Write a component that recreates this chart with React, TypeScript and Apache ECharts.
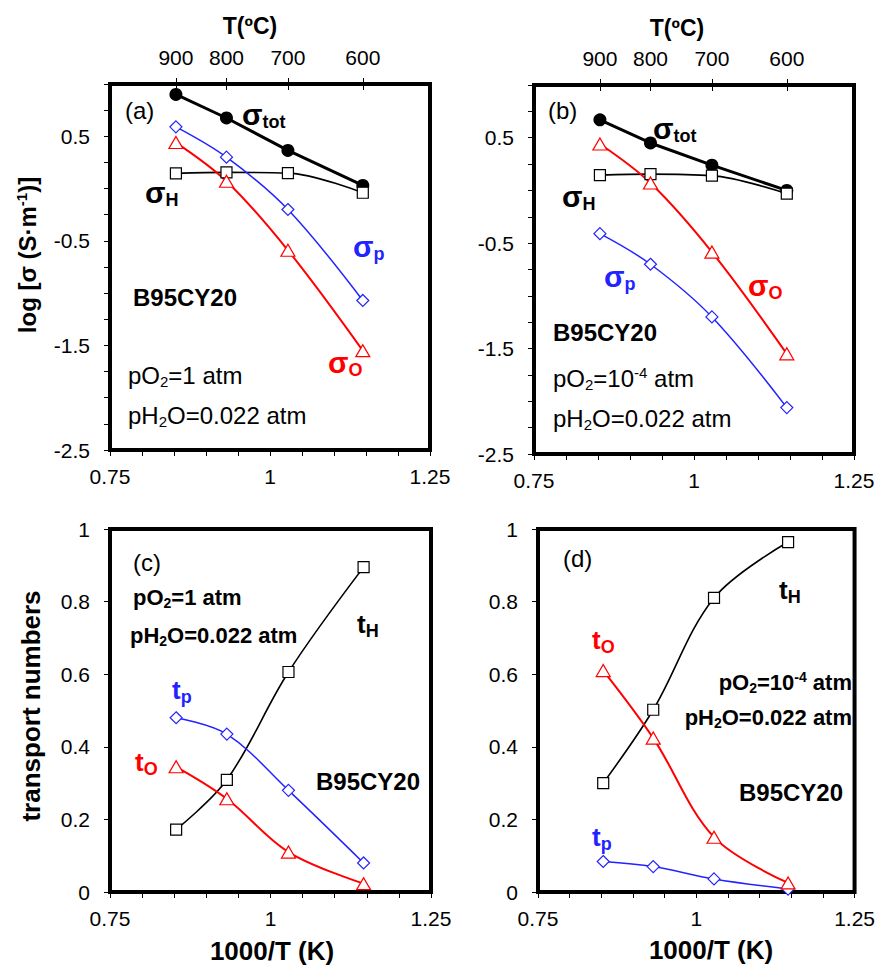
import React, { useEffect, useRef } from 'react';
import * as echarts from 'echarts';

// 1000/T (K) positions of the measurement temperatures
const invT = [0.853, 0.932, 1.028, 1.145];
const tempC = ['900', '800', '700', '600'];

// panel (a): pO2 = 1 atm, log sigma
const aTot = [0.9, 0.675, 0.365, 0.03];
const aH = [0.145, 0.155, 0.148, -0.04];
const aP = [0.59, 0.3, -0.2, -1.07];
const aO = [0.44, 0.07, -0.59, -1.55];

// panel (b): pO2 = 1e-4 atm, log sigma
const bTot = [0.67, 0.45, 0.24, 0.0];
const bH = [0.145, 0.155, 0.14, -0.03];
const bP = [-0.41, -0.7, -1.2, -2.06];
const bO = [0.44, 0.07, -0.585, -1.55];

// panel (c): transport numbers, pO2 = 1 atm
const cH = [0.172, 0.309, 0.606, 0.895];
const cP = [0.48, 0.435, 0.28, 0.08];
const cO = [0.345, 0.257, 0.11, 0.023];

// panel (d): transport numbers, pO2 = 1e-4 atm
const dH = [0.3, 0.502, 0.81, 0.964];
const dP = [0.084, 0.07, 0.036, 0.008];
const dO = [0.61, 0.424, 0.151, 0.025];

const xLabelValues = [0.75, 1, 1.25];
const logLabelValues = [-2.5, -1.5, -0.5, 0.5];

const FF = '"Liberation Sans", Arial, Helvetica, sans-serif';
const BLUE = '#2323ff';
const RED = '#ff0000';

type Kind = 'n' | 'sub' | 'sup';

function rt(
  x: number,
  y: number,
  parts: [string, Kind][],
  size: number,
  weight: string,
  color: string,
  align: string = 'left',
  rotation: number = 0,
  subSize?: number
) {
  const ss = subSize || Math.round(size * 0.68);
  const rich: any = {
    n: { fontSize: size, fontWeight: weight, fontFamily: FF, fill: color, color },
    sub: {
      fontSize: ss,
      fontWeight: weight,
      fontFamily: FF,
      fill: color,
      color,
      padding: [Math.round(size * 0.5), 0, 0, 0],
    },
    sup: {
      fontSize: ss,
      fontWeight: weight,
      fontFamily: FF,
      fill: color,
      color,
      padding: [0, 0, Math.round(size * 0.5), 0],
    },
  };
  return {
    type: 'text',
    x,
    y,
    rotation,
    silent: true,
    style: {
      text: parts.map(([t, k]) => `{${k}|${t}}`).join(''),
      rich,
      align,
      verticalAlign: 'middle',
      fontSize: size,
      fontWeight: weight,
      fontFamily: FF,
      fill: color,
    },
  };
}

const grids = [
  { left: 110, top: 84, width: 320, height: 366 },
  { left: 534, top: 85, width: 320, height: 369 },
  { left: 110, top: 529, width: 321, height: 363 },
  { left: 538, top: 529, width: 321, height: 363 },
];

const tickStyle = { color: '#000', width: 1 };

function bottomAxis(g: number) {
  return {
    type: 'value',
    gridIndex: g,
    position: 'bottom',
    min: 0.75,
    max: 1.25,
    interval: 0.05,
    axisLine: { show: false, onZero: false },
    axisTick: { show: true, length: 6, lineStyle: tickStyle },
    axisLabel: {
      customValues: xLabelValues,
      formatter: (v: number) => String(v),
      margin: 16,
      fontSize: 21,
      fontFamily: FF,
      color: '#000',
    },
    splitLine: { show: false },
  };
}

function topAxis(g: number) {
  return {
    type: 'value',
    gridIndex: g,
    position: 'top',
    min: 0.75,
    max: 1.25,
    offset: -6,
    axisLine: { show: false, onZero: false },
    axisTick: {
      show: true,
      customValues: invT,
      length: 12,
      lineStyle: tickStyle,
    },
    axisLabel: {
      customValues: invT,
      formatter: (v: number) => {
        const i = invT.findIndex((t) => Math.abs(t - v) < 1e-6);
        return i >= 0 ? tempC[i] : '';
      },
      margin: 22,
      fontSize: 21,
      fontFamily: FF,
      color: '#000',
    },
    splitLine: { show: false },
  };
}

function logAxis(g: number) {
  return {
    type: 'value',
    gridIndex: g,
    position: 'left',
    min: -2.5,
    max: 1,
    interval: 0.25,
    axisLine: { show: false, onZero: false },
    axisTick: { show: true, length: 6, lineStyle: tickStyle },
    axisLabel: {
      customValues: logLabelValues,
      formatter: (v: number) => String(v),
      margin: 20,
      fontSize: 21,
      fontFamily: FF,
      color: '#000',
    },
    splitLine: { show: false },
  };
}

function tAxis(g: number) {
  return {
    type: 'value',
    gridIndex: g,
    position: 'left',
    min: 0,
    max: 1,
    interval: 0.2,
    axisLine: { show: false, onZero: false },
    axisTick: { show: true, length: 6, lineStyle: tickStyle },
    axisLabel: {
      formatter: (v: number) => String(Math.round(v * 10) / 10),
      margin: 20,
      fontSize: 21,
      fontFamily: FF,
      color: '#000',
    },
    splitLine: { show: false },
  };
}

const styleTot = {
  symbol: 'circle',
  symbolSize: 13,
  smooth: false,
  lineStyle: { color: '#000', width: 3 },
  itemStyle: { color: '#000' },
};
const styleH = {
  symbol: 'rect',
  symbolSize: 11,
  smooth: 0.35,
  lineStyle: { color: '#000', width: 1.6 },
  itemStyle: { color: '#fff', borderColor: '#000', borderWidth: 1.2 },
};
const styleP = {
  symbol: 'diamond',
  symbolSize: 12,
  smooth: 0.35,
  lineStyle: { color: BLUE, width: 1.5 },
  itemStyle: { color: '#fff', borderColor: BLUE, borderWidth: 1.2 },
};
const styleO = {
  symbol: 'triangle',
  symbolSize: [14, 12],
  smooth: 0.35,
  lineStyle: { color: RED, width: 2 },
  itemStyle: { color: '#fff', borderColor: RED, borderWidth: 1.2 },
};

function series(name: string, ys: number[], idx: number, st: any) {
  return {
    type: 'line',
    name,
    xAxisIndex: idx,
    yAxisIndex: idx,
    data: invT.map((x, i) => [x, ys[i]]),
    showSymbol: true,
    silent: true,
    animation: false,
    emphasis: { disabled: true },
    z: 3,
    ...st,
  };
}

function buildOption() {
  const graphics: any[] = [];
  const sig = (x: number, y: number, sub: string, color: string) =>
    rt(x, y, [['σ', 'n'], [sub, 'sub']], 30, 'bold', color, 'left', 0, 18);
  const tt = (x: number, y: number, sub: string, color: string) =>
    rt(x, y, [['t', 'n'], [sub, 'sub']], 26, 'bold', color, 'left', 0, 18);

  // axis titles
  graphics.push(rt(250, 26, [['T(ºC)', 'n']], 23, 'bold', '#000', 'center'));
  graphics.push(rt(677, 28, [['T(ºC)', 'n']], 23, 'bold', '#000', 'center'));
  graphics.push(
    rt(27, 255, [['log [σ (S·m', 'n'], ['-1', 'sup'], [')]', 'n']], 24, 'bold', '#000', 'center', Math.PI / 2, 15)
  );
  graphics.push(rt(31, 706, [['transport numbers', 'n']], 26, 'bold', '#000', 'center', Math.PI / 2));
  graphics.push(rt(272, 951, [['1000/T (K)', 'n']], 26, 'bold', '#000', 'center'));
  graphics.push(rt(711, 950, [['1000/T (K)', 'n']], 26, 'bold', '#000', 'center'));

  // panel (a)
  graphics.push(rt(125, 110, [['(a)', 'n']], 24, 'normal', '#000'));
  graphics.push(sig(242, 114, 'tot', '#000'));
  graphics.push(sig(145, 192, 'H', '#000'));
  graphics.push(sig(353, 246, 'p', BLUE));
  graphics.push(sig(328, 362, 'O', RED));
  graphics.push(rt(133, 297, [['B95CY20', 'n']], 24, 'bold', '#000'));
  graphics.push(rt(128, 375, [['pO', 'n'], ['2', 'sub'], ['=1 atm', 'n']], 24, 'normal', '#000', 'left', 0, 15));
  graphics.push(rt(128, 415, [['pH', 'n'], ['2', 'sub'], ['O=0.022 atm', 'n']], 24, 'normal', '#000', 'left', 0, 15));

  // panel (b)
  graphics.push(rt(548, 110, [['(b)', 'n']], 24, 'normal', '#000'));
  graphics.push(sig(653, 128, 'tot', '#000'));
  graphics.push(sig(562, 196, 'H', '#000'));
  graphics.push(sig(604, 276, 'p', BLUE));
  graphics.push(sig(748, 285, 'O', RED));
  graphics.push(rt(553, 332, [['B95CY20', 'n']], 24, 'bold', '#000'));
  graphics.push(
    rt(553, 378, [['pO', 'n'], ['2', 'sub'], ['=10', 'n'], ['-4', 'sup'], [' atm', 'n']], 24, 'normal', '#000', 'left', 0, 15)
  );
  graphics.push(rt(553, 418, [['pH', 'n'], ['2', 'sub'], ['O=0.022 atm', 'n']], 24, 'normal', '#000', 'left', 0, 15));

  // panel (c)
  graphics.push(rt(133, 562, [['(c)', 'n']], 24, 'normal', '#000'));
  graphics.push(rt(133, 597, [['pO', 'n'], ['2', 'sub'], ['=1 atm', 'n']], 22, 'bold', '#000', 'left', 0, 14));
  graphics.push(rt(130, 635, [['pH', 'n'], ['2', 'sub'], ['O=0.022 atm', 'n']], 22, 'bold', '#000', 'left', 0, 14));
  graphics.push(tt(357, 624, 'H', '#000'));
  graphics.push(tt(172, 690, 'p', BLUE));
  graphics.push(tt(135, 762, 'O', RED));
  graphics.push(rt(316, 781, [['B95CY20', 'n']], 24, 'bold', '#000'));

  // panel (d)
  graphics.push(rt(563, 558, [['(d)', 'n']], 24, 'normal', '#000'));
  graphics.push(tt(779, 590, 'H', '#000'));
  graphics.push(tt(592, 640, 'O', RED));
  graphics.push(
    rt(852, 682, [['pO', 'n'], ['2', 'sub'], ['=10', 'n'], ['-4', 'sup'], [' atm', 'n']], 22, 'bold', '#000', 'right', 0, 14)
  );
  graphics.push(rt(852, 717, [['pH', 'n'], ['2', 'sub'], ['O=0.022 atm', 'n']], 22, 'bold', '#000', 'right', 0, 14));
  graphics.push(rt(739, 792, [['B95CY20', 'n']], 24, 'bold', '#000'));
  graphics.push(tt(592, 837, 'p', BLUE));

  return {
    animation: false,
    backgroundColor: '#fff',
    grid: grids.map((g) => ({
      ...g,
      show: true,
      borderColor: '#000',
      borderWidth: 4,
      backgroundColor: 'transparent',
      containLabel: false,
    })),
    xAxis: [bottomAxis(0), bottomAxis(1), bottomAxis(2), bottomAxis(3), topAxis(0), topAxis(1)],
    yAxis: [logAxis(0), logAxis(1), tAxis(2), tAxis(3)],
    series: [
      series('σtot a', aTot, 0, styleTot),
      series('σH a', aH, 0, styleH),
      series('σp a', aP, 0, styleP),
      series('σO a', aO, 0, styleO),
      series('σtot b', bTot, 1, styleTot),
      series('σH b', bH, 1, styleH),
      series('σp b', bP, 1, styleP),
      series('σO b', bO, 1, styleO),
      series('tH c', cH, 2, styleH),
      series('tp c', cP, 2, styleP),
      series('tO c', cO, 2, styleO),
      series('tH d', dH, 3, styleH),
      series('tp d', dP, 3, styleP),
      series('tO d', dO, 3, styleO),
    ],
    graphic: graphics,
  };
}

export default function App() {
  const ref = useRef<HTMLDivElement>(null);
  useEffect(() => {
    document.body.style.margin = '0';
    if (!ref.current) return;
    const chart = echarts.init(ref.current, null, { renderer: 'svg' });
    chart.setOption(buildOption() as any);
    return () => {
      chart.dispose();
    };
  }, []);
  return <div ref={ref} style={{ width: 878, height: 965 }} />;
}
